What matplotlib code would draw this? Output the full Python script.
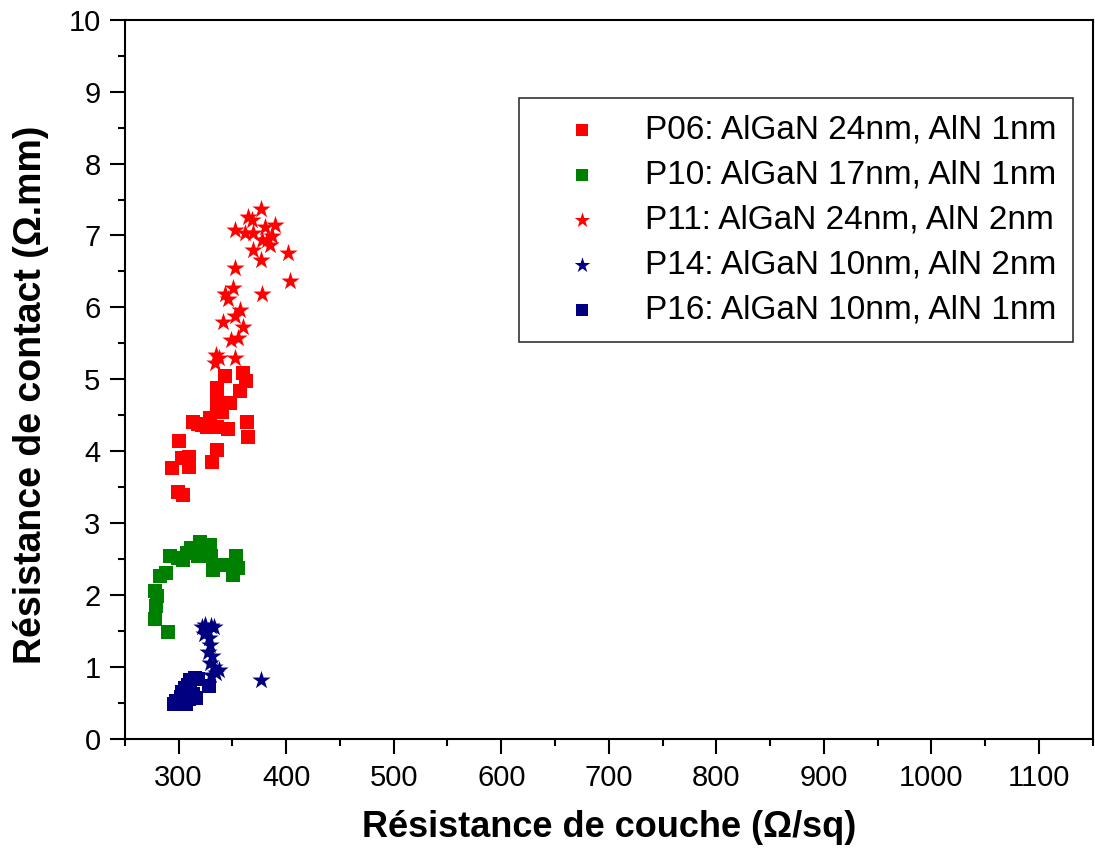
import matplotlib
matplotlib.use('Agg')
import matplotlib.pyplot as plt
from matplotlib.ticker import MultipleLocator

plt.rcParams['font.family'] = ['Liberation Sans', 'DejaVu Sans']

# P06: AlGaN 24nm, AlN 1nm (red squares)
p06_x = [343, 360, 362.5, 336, 357, 335.5, 347.6, 335.5, 313, 329, 326, 335.5, 345.8,
         363.5, 364.4, 300, 335.5, 331, 310, 303, 294, 310, 299, 304, 322, 318, 340]
p06_y = [5.05, 5.09, 4.97, 4.88, 4.83, 4.76, 4.67, 4.62, 4.41, 4.46, 4.34, 4.33, 4.31,
         4.40, 4.19, 4.14, 4.02, 3.85, 3.92, 3.91, 3.77, 3.78, 3.43, 3.39, 4.36, 4.38, 4.55]

# P10: AlGaN 17nm, AlN 1nm (green squares)
p10_x = [277.6, 279, 279.5, 278.5, 283, 288.5, 291.6, 299, 303.7, 311.8, 319.6, 329,
         317.7, 330.5, 331.7, 343, 353.8, 355, 350.4, 289.7, 323, 308]
p10_y = [1.66, 1.84, 1.98, 2.05, 2.26, 2.31, 2.54, 2.52, 2.49, 2.65, 2.74, 2.70,
         2.54, 2.54, 2.35, 2.42, 2.54, 2.38, 2.28, 1.49, 2.62, 2.58]

# P11: AlGaN 24nm, AlN 2nm (red stars)
p11_x = [377, 364.4, 368, 389.6, 380, 352, 361.6, 369, 386.5, 381.8, 385, 369, 378,
         377, 401.8, 352.7, 403.6, 350.4, 343, 345.8, 377.9, 357.5, 352, 341, 359.7,
         349, 355, 338, 352, 335, 333.6]
p11_y = [7.37, 7.25, 7.22, 7.15, 7.12, 7.07, 7.04, 7.04, 6.99, 6.94, 6.87, 6.80, 6.94,
         6.66, 6.75, 6.55, 6.37, 6.27, 6.18, 6.11, 6.18, 5.97, 5.88, 5.79, 5.72,
         5.55, 5.58, 5.30, 5.30, 5.34, 5.23]

# P14: AlGaN 10nm, AlN 2nm (navy stars)
p14_x = [322, 325, 330, 327, 333, 324, 328, 329, 327, 331, 329, 333, 335, 338, 330, 377]
p14_y = [1.55, 1.58, 1.57, 1.50, 1.55, 1.45, 1.40, 1.30, 1.20, 1.15, 1.05, 1.00,
         0.92, 0.95, 0.88, 0.82]

# P16: AlGaN 10nm, AlN 1nm (navy squares)
p16_x = [296, 298, 300, 302, 305, 303, 306, 309, 311, 315, 318, 313, 310, 316, 307, 328]
p16_y = [0.48, 0.52, 0.50, 0.58, 0.55, 0.65, 0.70, 0.75, 0.82, 0.85, 0.83, 0.62,
         0.55, 0.57, 0.48, 0.74]

fig = plt.figure(figsize=(10.95, 8.59), dpi=100)
ax = fig.add_axes([0.114, 0.140, 0.884, 0.837])

sq = dict(marker='s', s=95, linewidths=0)
st = dict(marker='*', s=190, linewidths=0)
ax.scatter(p06_x, p06_y, color='#ff0000', label='P06: AlGaN 24nm, AlN 1nm', **sq)
ax.scatter(p10_x, p10_y, color='#008000', label='P10: AlGaN 17nm, AlN 1nm', **sq)
ax.scatter(p11_x, p11_y, color='#ff0000', label='P11: AlGaN 24nm, AlN 2nm', **st)
ax.scatter(p14_x, p14_y, color='#000080', label='P14: AlGaN 10nm, AlN 2nm', **st)
ax.scatter(p16_x, p16_y, color='#000080', label='P16: AlGaN 10nm, AlN 1nm', **sq)

ax.set_xlim(250, 1150)
ax.set_ylim(0, 10)
ax.xaxis.set_minor_locator(MultipleLocator(50))
ax.yaxis.set_major_locator(MultipleLocator(1))
ax.yaxis.set_minor_locator(MultipleLocator(0.5))
ax.set_xticks(range(300, 1101, 100))
ax.tick_params(which='major', direction='out', length=10.5, width=1.5, labelsize=21)
ax.tick_params(which='minor', direction='out', length=5, width=1.5)
ax.tick_params(axis='x', which='major', pad=7.5)
ax.tick_params(axis='y', which='major', pad=7)
for sp in ax.spines.values():
    sp.set_linewidth(1.5)

ax.set_xlabel(u'Résistance de couche (Ω/sq)', fontsize=26, fontweight='bold')
ax.set_ylabel(u'Résistance de contact (Ω.mm)', fontsize=27, fontweight='bold')
ax.xaxis.set_label_coords(0.5, -0.099)
ax.yaxis.set_label_coords(-0.078, 0.478)

leg = ax.legend(loc='upper right', bbox_to_anchor=(0.980, 0.8915), borderaxespad=0,
                fontsize=24, fancybox=False, edgecolor='#333333', framealpha=1,
                markerscale=0.85, handlelength=2.8, handletextpad=0.5,
                borderpad=0.5, labelspacing=0.42)
leg.get_frame().set_linewidth(1.2)

plt.savefig('out.png', dpi=100)
